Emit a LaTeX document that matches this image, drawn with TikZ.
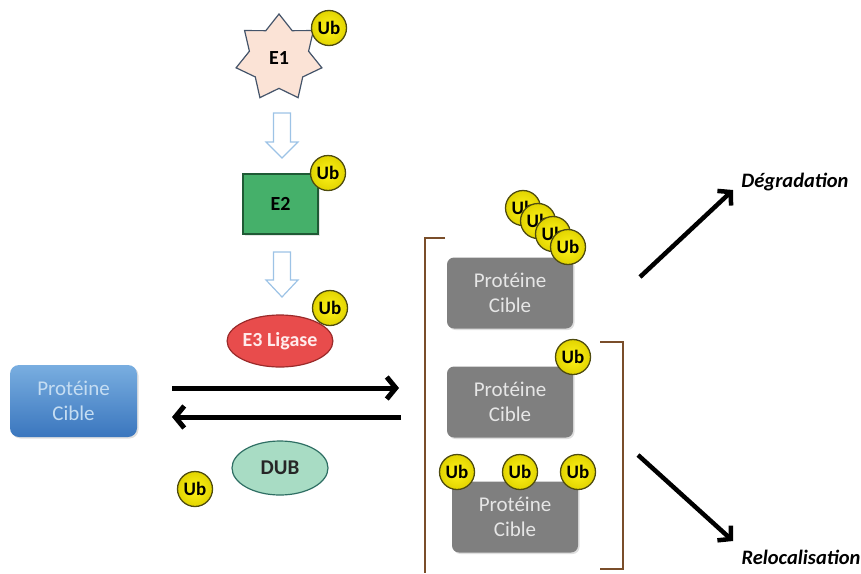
\documentclass[tikz,border=0pt]{standalone}
\usepackage{fontspec}
\setmainfont{Carlito}
\usetikzlibrary{shapes.geometric,arrows.meta,shadows}
\definecolor{ubin}{HTML}{FFF41A}
\definecolor{ubout}{HTML}{E2D400}
\definecolor{ubline}{HTML}{4F4C10}
\definecolor{starfill}{HTML}{FBE3D6}
\definecolor{starline}{HTML}{44546A}
\definecolor{etwo}{HTML}{45B06A}
\definecolor{etwoline}{HTML}{1F5A35}
\definecolor{ethree}{HTML}{E84C4C}
\definecolor{ethreeline}{HTML}{9A2A2A}
\definecolor{dubfill}{HTML}{A8DCC4}
\definecolor{dubline}{HTML}{2E6E63}
\definecolor{protgray}{HTML}{7F7F7F}
\definecolor{prottext}{HTML}{E6E6E6}
\definecolor{bluetop}{HTML}{79AEE0}
\definecolor{bluebot}{HTML}{3A76BE}
\definecolor{bluetext}{HTML}{C5DDF2}
\definecolor{hollow}{HTML}{9DC3E6}
\definecolor{brack}{HTML}{7A4E2A}
\tikzset{
  ub/.style={circle,inner color=ubin,outer color=ubout,draw=ubline,line width=1.3pt,minimum size=35pt,inner sep=0pt,font=\fontsize{19}{19}\selectfont\bfseries,text=black},
  protbox/.style={rounded corners=7pt,fill=protgray,minimum width=126pt,minimum height=71pt,align=center,text=prottext,font=\fontsize{21}{25}\selectfont,drop shadow={opacity=0.25,shadow xshift=1.5pt,shadow yshift=-1.5pt}},
  bigarrow/.style={line width=5pt,-{Straight Barb[length=9pt,width=22pt,line width=5pt]}},
  outarrow/.style={line width=4.5pt,-{Straight Barb[length=9pt,width=20pt,line width=4.5pt]}},
  hollowarrow/.style={draw=hollow,fill=white,line width=1.2pt,line join=miter},
  bracketline/.style={draw=brack,line width=1.6pt},
  labeltext/.style={font=\fontsize{20.5}{20.5}\selectfont\bfseries\itshape,inner sep=0pt},
  enzfont/.style={font=\fontsize{20}{20}\selectfont\bfseries}
}
\begin{document}
\begin{tikzpicture}[x=1pt,y=-1pt]
\useasboundingbox (0,0) rectangle (861,573);

% E1 star
\node[star,star points=7,star point ratio=1.45,minimum size=88pt,inner sep=0pt,fill=starfill,draw=starline,line width=1.2pt,enzfont] (e1) at (279,58) {E1};
\node[ub] (ub1) at (329,28) {Ub};

% hollow arrow 1
\path[hollowarrow] (273.5,113) -- (290.5,113) -- (290.5,142) -- (298,142) -- (282,158) -- (266,142) -- (273.5,142) -- cycle;

% E2
\node[rectangle,fill=etwo,draw=etwoline,line width=1.2pt,minimum width=75pt,minimum height=60pt,enzfont,drop shadow={opacity=0.2,shadow xshift=1.5pt,shadow yshift=-1.5pt}] (e2) at (280.5,204) {E2};
\node[ub] (ub2) at (328,173) {Ub};

% hollow arrow 2
\path[hollowarrow] (273.5,252) -- (290.5,252) -- (290.5,280) -- (298,280) -- (282,297) -- (266,280) -- (273.5,280) -- cycle;

% E3
\node[ellipse,fill=ethree,draw=ethreeline,line width=1.2pt,minimum width=94pt,minimum height=52pt,inner sep=0pt,text=white!92!red,enzfont] (e3) at (280,341) {E3 Ligase};
\node[ub] (ub3) at (330,308) {Ub};

% blue protein
\node[rounded corners=9pt,top color=bluetop,bottom color=bluebot,minimum width=127pt,minimum height=72pt,align=center,text=bluetext,font=\fontsize{21}{25}\selectfont,drop shadow={opacity=0.25,shadow xshift=1.5pt,shadow yshift=-1.5pt}] (pc) at (73.5,401) {Protéine\\Cible};

% forward / backward arrows
\coordinate (fwdS) at (172,388);
\coordinate (fwdE) at (399,388);
\coordinate (bwdS) at (401,417);
\coordinate (bwdE) at (172,417);
\draw[bigarrow] (fwdS) -- (fwdE);
\draw[bigarrow] (bwdS) -- (bwdE);

% DUB
\node[ellipse,fill=dubfill,draw=dubline,line width=1.2pt,minimum width=96pt,minimum height=54pt,inner sep=0pt,font=\fontsize{21}{21}\selectfont\bfseries,text=black!85] (dub) at (280,468) {DUB};
\node[ub] (ubf) at (195,489) {Ub};

% brackets
\coordinate (lbTop) at (445,238);
\coordinate (lbTopC) at (425,238);
\coordinate (lbBot) at (425,573);
\draw[bracketline] (lbTop) -- (lbTopC) -- (lbBot);
\coordinate (rbTop) at (600,342);
\coordinate (rbTopC) at (623,342);
\coordinate (rbBotC) at (623,569);
\coordinate (rbBot) at (600,569);
\draw[bracketline] (rbTop) -- (rbTopC) -- (rbBotC) -- (rbBot);

% gray proteins
\node[protbox] (p1) at (510,293) {Protéine\\Cible};
\node[ub] (c1) at (523,208) {Ub};
\node[ub] (c2) at (538,221) {Ub};
\node[ub] (c3) at (553,234) {Ub};
\node[ub] (c4) at (568,247) {Ub};

\node[protbox] (p2) at (510,402) {Protéine\\Cible};
\node[ub] (m1) at (573,357) {Ub};

\node[protbox] (p3) at (515,517) {Protéine\\Cible};
\node[ub] (b1) at (457,472) {Ub};
\node[ub] (b2) at (520,472) {Ub};
\node[ub] (b3) at (578,472) {Ub};

% outcomes
\coordinate (dS) at (640,277);
\coordinate (dE) at (733,190);
\draw[outarrow] (dS) -- (dE);
\node[labeltext] (deg) at (795,182) {Dégradation};

\coordinate (rS) at (638,455);
\coordinate (rE) at (733,541);
\draw[outarrow] (rS) -- (rE);
\node[labeltext] (rel) at (801,557) {Relocalisation};
\end{tikzpicture}
\end{document}
